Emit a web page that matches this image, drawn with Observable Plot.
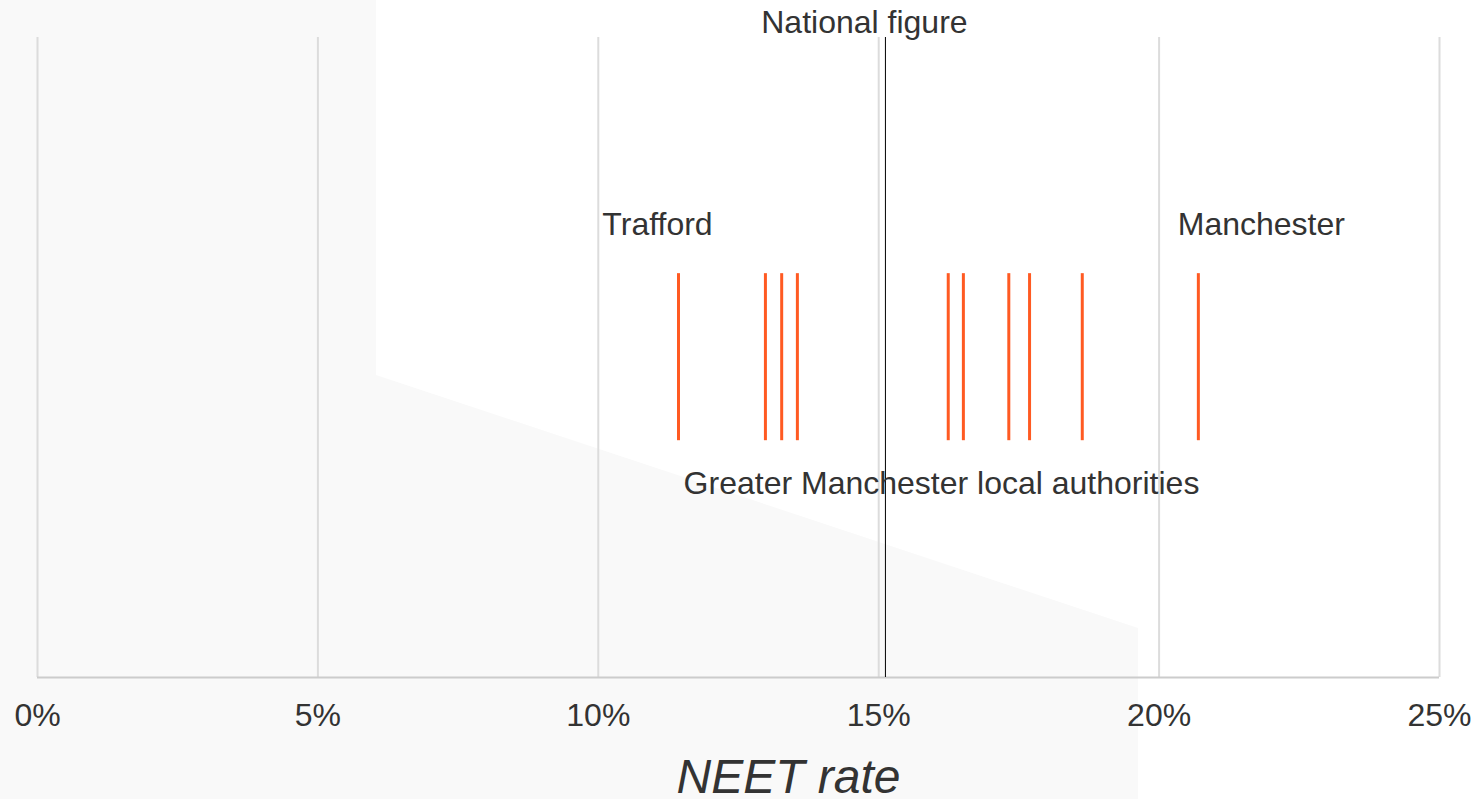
<!DOCTYPE html>
<html>
<head>
<meta charset="utf-8">
<script src="https://cdn.jsdelivr.net/npm/d3@7"></script>
<script src="https://cdn.jsdelivr.net/npm/@observablehq/plot@0.6"></script>
<style>
  html, body { margin: 0; padding: 0; background: #fff; }
  #wrap { position: relative; width: 1476px; height: 799px; overflow: hidden; }
  #bg { position: absolute; left: 0; top: 0; width: 1476px; height: 799px; background: #f9f9f9;
        clip-path: polygon(0px 0px, 376px 0px, 376px 375px, 1138px 628px, 1138px 799px, 0px 799px); }
  #chart { position: absolute; left: 0; top: 0; }
  text { font-family: "Liberation Sans", Arial, sans-serif; }
</style>
</head>
<body>
<div id="wrap"><div id="bg"></div><div id="chart"></div></div>
<script>
// NEET rates (%) for Greater Manchester local authorities, lowest (Trafford) to highest (Manchester)
const rates = [11.43, 12.98, 13.27, 13.55, 16.24, 16.51, 17.32, 17.69, 18.63, 20.70];
const nationalRate = 15.12;
const xTicks = [0, 5, 10, 15, 20, 25];
const lowLabel = "Trafford";
const lowRate = 11.43;
const highLabel = "Manchester";
const highRate = 20.70;
const groupLabel = "Greater Manchester local authorities";
const groupLabelX = 16.12;
const axisTitle = "NEET rate";

const textColor = "#333";
const fontFamily = "'Liberation Sans', Arial, sans-serif";

const chart = Plot.plot({
  width: 1476,
  height: 799,
  marginTop: 37,
  marginBottom: 122,
  marginLeft: 37,
  marginRight: 37,
  style: {background: "transparent", fontFamily, color: textColor},
  x: {domain: [0, 25]},
  y: {domain: [0, 10], axis: null},
  marks: [
    Plot.gridX(xTicks, {stroke: "#dcdcdc", strokeOpacity: 1, strokeWidth: 2}),
    Plot.ruleY([0], {stroke: "#cccccc", strokeWidth: 2}),
    Plot.axisX({ticks: xTicks, tickFormat: d => d + "%", tickSize: 0, tickPadding: 26, fontSize: 32, label: null, fill: textColor}),
    Plot.ruleX([nationalRate], {stroke: "#000", strokeWidth: 1, y1: 0, y2: 10}),
    Plot.text(["National figure"], {x: nationalRate, y: 10, dy: -15, dx: -21, fontSize: 32, fill: textColor, textAnchor: "middle", lineAnchor: "middle"}),
    Plot.ruleX(rates, {x: d => d, y1: 3.70, y2: 6.31, stroke: "#ff5a22", strokeWidth: 3}),
    Plot.text([lowLabel], {x: lowRate, y: 7.08, dx: -21, fontSize: 32, fill: textColor, textAnchor: "middle", lineAnchor: "middle"}),
    Plot.text([highLabel], {x: highRate, y: 7.08, dx: 63, fontSize: 32, fill: textColor, textAnchor: "middle", lineAnchor: "middle"}),
    Plot.text([groupLabel], {x: groupLabelX, y: 3.03, fontSize: 32, fill: textColor, textAnchor: "middle", lineAnchor: "middle"}),
    Plot.text([axisTitle], {frameAnchor: "bottom", dy: 100, dx: 50, fontSize: 48, fontStyle: "italic", fill: textColor, textAnchor: "middle", lineAnchor: "middle"})
  ]
});
document.getElementById("chart").appendChild(chart);
</script>
</body>
</html>
